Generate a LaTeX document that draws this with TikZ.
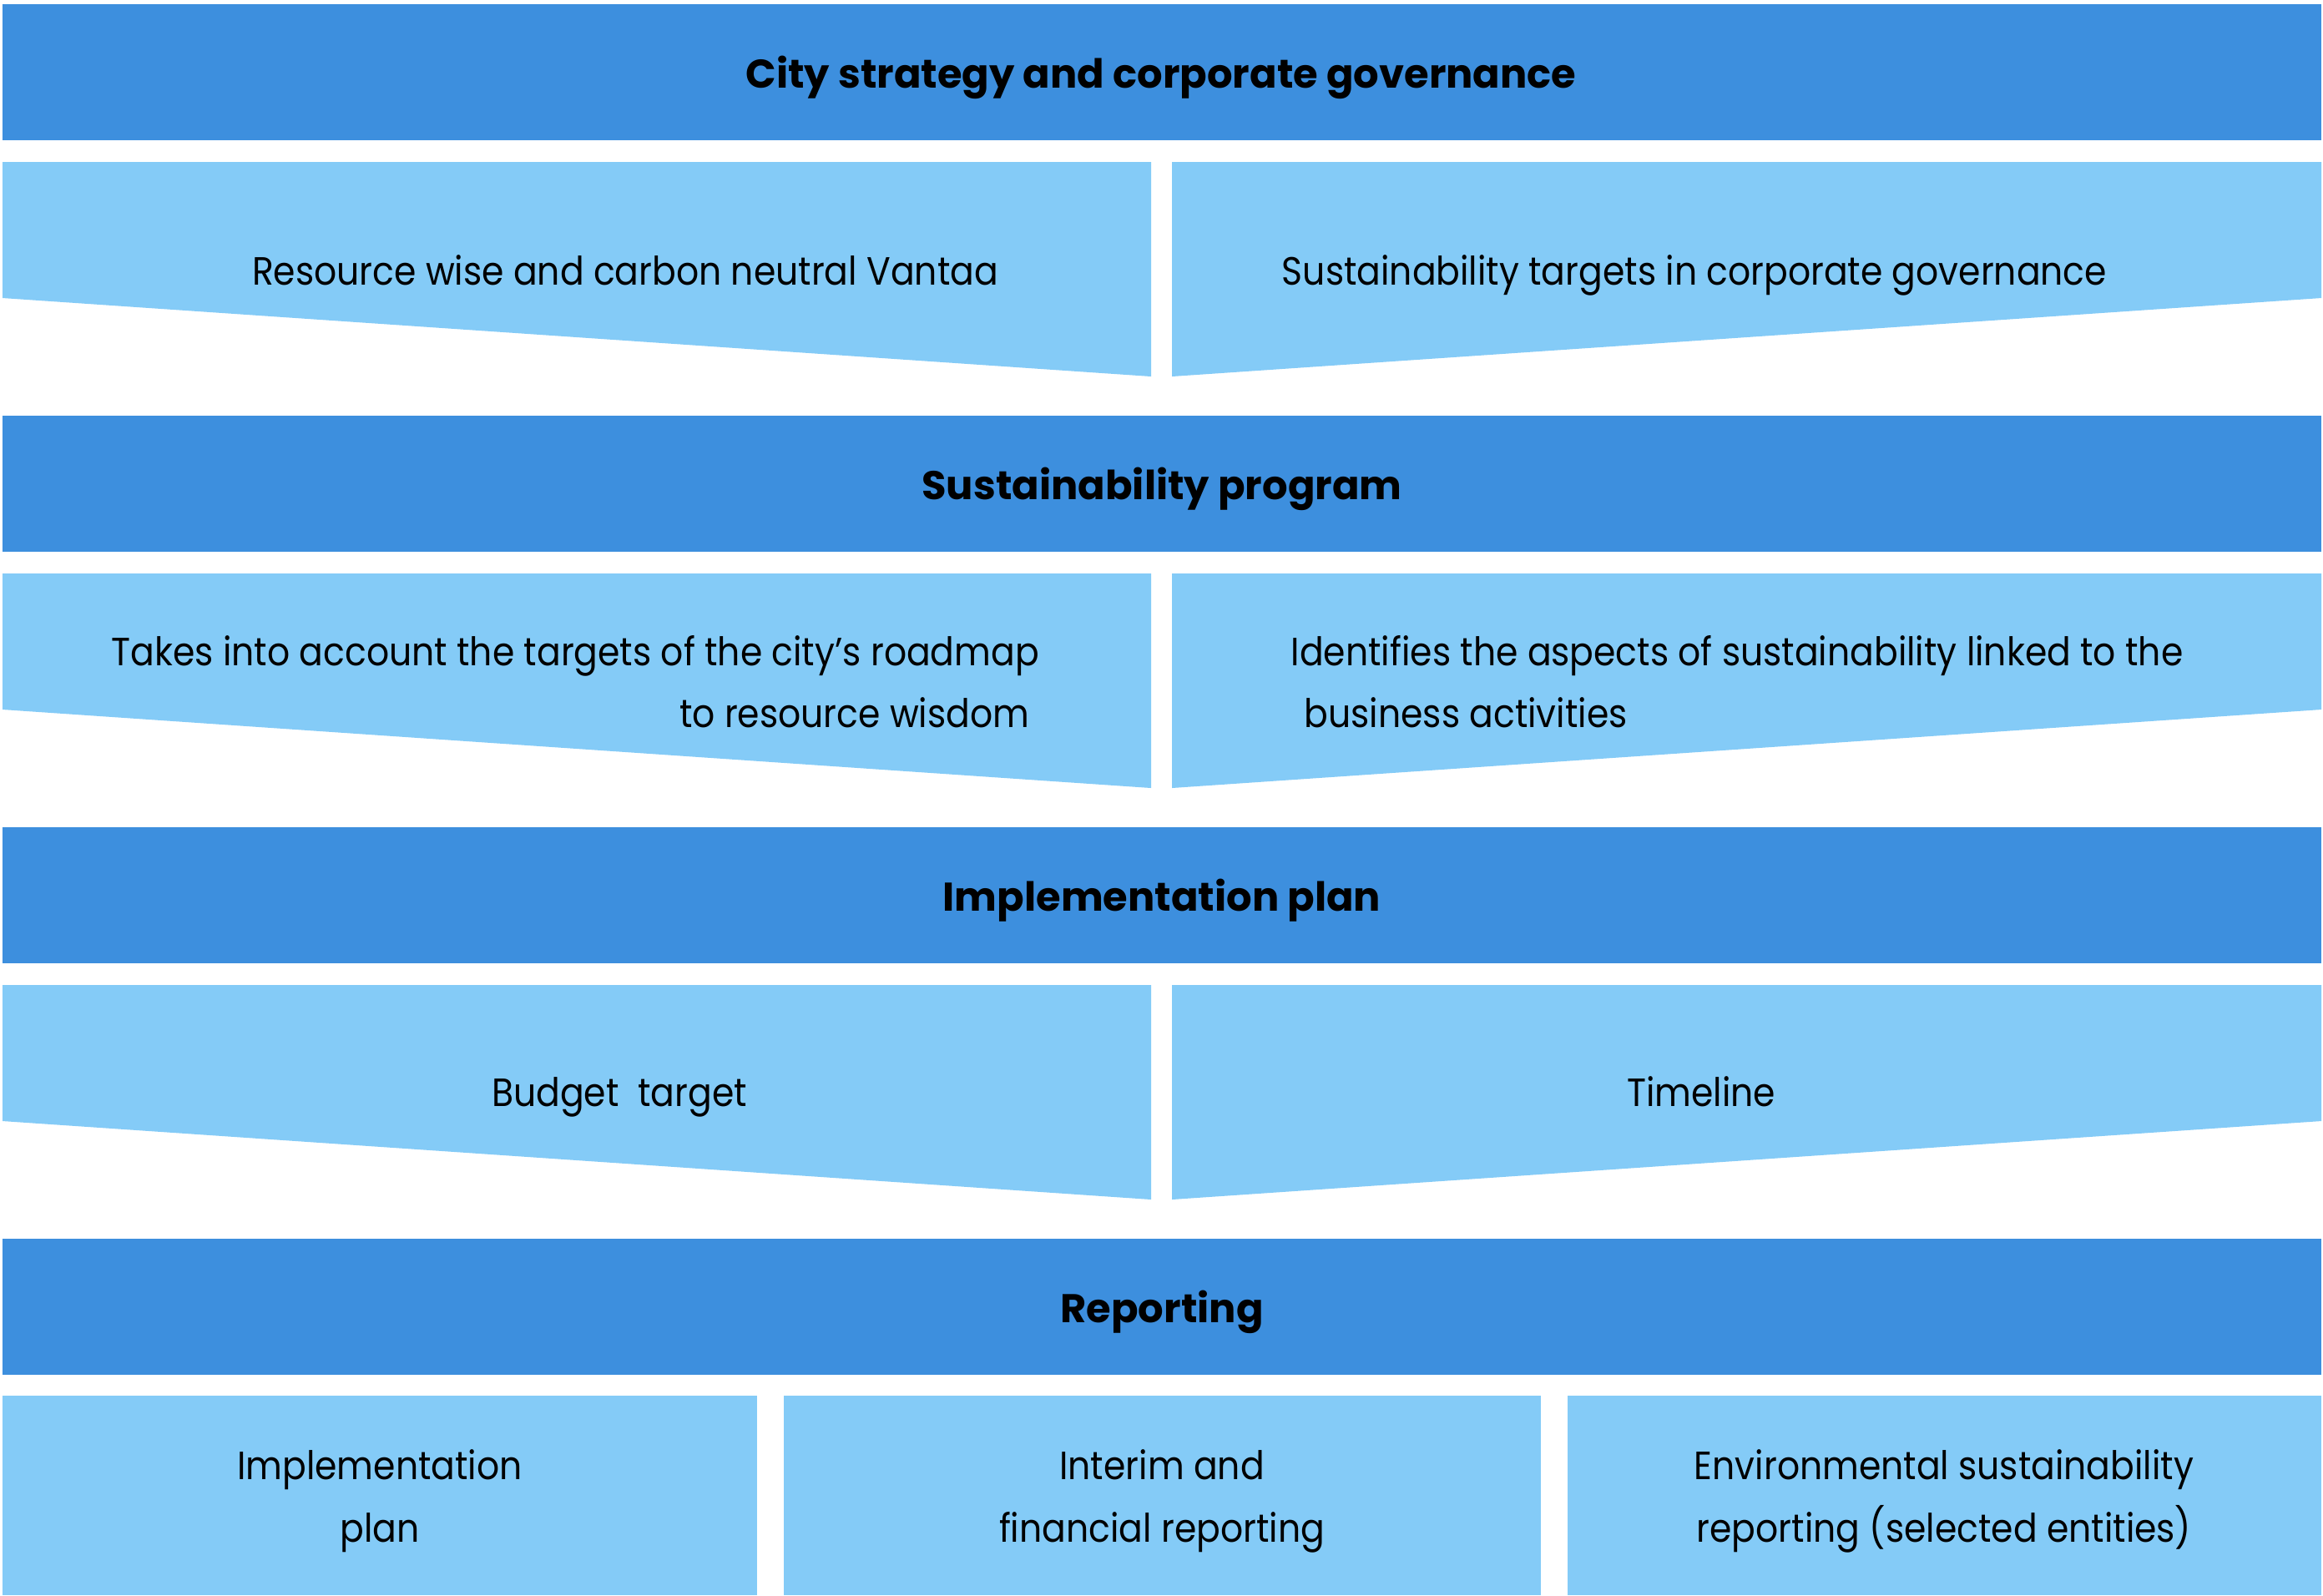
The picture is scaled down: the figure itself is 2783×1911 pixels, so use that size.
\documentclass[tikz,border=0pt]{standalone}
\usepackage{fontspec}
\setmainfont{Poppins}
\newfontfamily\bodyfont{Poppins}[FakeStretch=0.9]
\definecolor{darkband}{RGB}{61,143,222}
\definecolor{lightpanel}{RGB}{132,203,247}
\begin{document}
\begin{tikzpicture}[x=0.25pt,y=-0.25pt,
  band/.style={fill=darkband},
  panel/.style={fill=lightpanel},
  ttl/.style={font=\fontsize{12}{14}\selectfont\bfseries, anchor=base, inner sep=0pt},
  txt/.style={font=\bodyfont\fontsize{11.8}{18.6}\selectfont, anchor=base, inner sep=0pt}]
\useasboundingbox (0,0) rectangle (2783,1911);
\fill[white] (0,0) rectangle (2783,1911);
% bands
\foreach \t in {5,498,991,1484}{
  \fill[band] (3,\t) rectangle (2781,\t+163);
}
% split panels
\foreach \t in {5,498,991}{
  \fill[panel] (3,\t+189) -- (1379,\t+189) -- (1379,\t+446) -- (3,\t+352) -- cycle;
  \fill[panel] (1404,\t+189) -- (2781,\t+189) -- (2781,\t+352) -- (1404,\t+446) -- cycle;
}
% bottom boxes
\fill[panel] (3,1672) rectangle (907,1911);
\fill[panel] (939,1672) rectangle (1846,1911);
\fill[panel] (1878,1672) rectangle (2781,1911);
% titles
\node[ttl] (t1) at (1391,105) {City strategy and corporate governance};
\node[ttl] (t2) at (1392,598) {Sustainability program};
\node[ttl] (t3) at (1392,1091) {Implementation plan};
\node[ttl] (t4) at (1392,1584) {Reporting};
% row 1
\node[txt] (a1) at (749,341) {Resource wise and carbon neutral Vantaa};
\node[txt] (b1) at (2030,341) {Sustainability targets in corporate governance};
% row 2
\node[txt, anchor=base west] (a2) at (133,797) {Takes into account the targets of the city’s roadmap};
\node[txt, anchor=base east] (a2b) at (1234,871) {to resource wisdom};
\node[txt, anchor=base west] (b2) at (1546,797) {Identifies the aspects of sustainability linked to the};
\node[txt, anchor=base west] (b2b) at (1562,871) {business activities};
% row 3
\node[txt] (a3) at (742,1325) {Budget\ \ target};
\node[txt] (b3) at (2038,1325) {Timeline};
% bottom
\node[txt, align=center] (c1) at (455,1847) {Implementation\\plan};
\node[txt, align=center] (c2) at (1392,1847) {Interim and\\financial reporting};
\node[txt, align=center] (c3) at (2329,1847) {Environmental sustainability\\reporting (selected entities)};
\end{tikzpicture}
\end{document}
